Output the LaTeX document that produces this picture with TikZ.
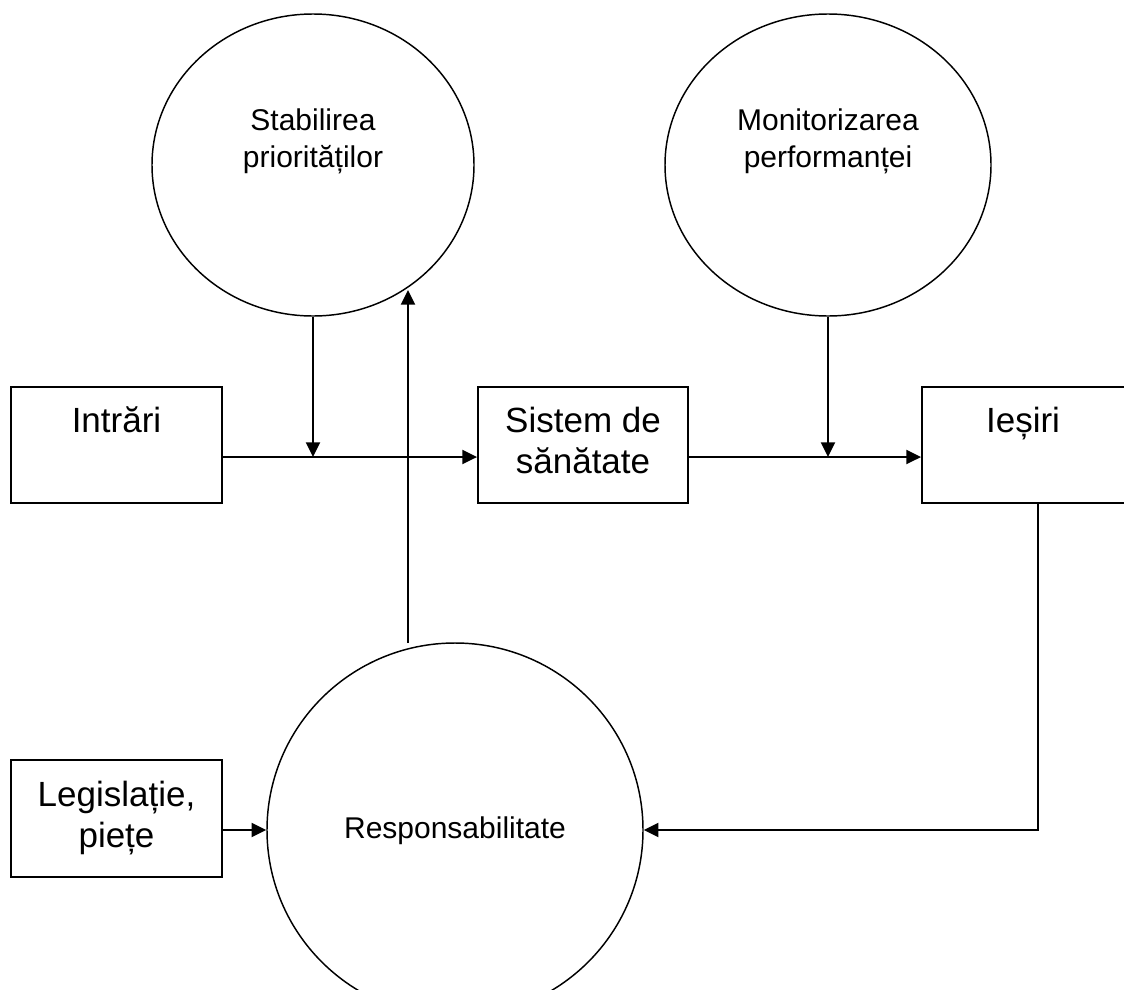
\documentclass[tikz,border=0pt]{standalone}
\usepackage{fontspec}
\setmainfont{Liberation Sans}
\usetikzlibrary{shapes.geometric,arrows.meta}
\begin{document}
\begin{tikzpicture}[x=0.75pt,y=-0.75pt,
  box/.style={draw,line width=1.4pt,inner sep=0pt},
  bubble/.style={ellipse,draw,line width=1.1pt,inner sep=0pt},
  boxtext/.style={font=\fontsize{26.25pt}{30.75pt}\selectfont,align=center,anchor=base,inner sep=0pt},
  bubbletext/.style={font=\fontsize{22.5pt}{27.75pt}\selectfont,align=center,anchor=base,inner sep=0pt},
  flow/.style={line width=1.5pt,-{Triangle[length=11pt,width=10.5pt]}},
  link/.style={line width=1.5pt}]
\useasboundingbox (0,0) rectangle (1124,989);

% process bubbles
\node[bubble,minimum width=0.75pt*322,minimum height=0.75pt*302] (stab) at (313,165) {};
\node[bubble,minimum width=0.75pt*326,minimum height=0.75pt*302] (monit) at (828,165) {};
\node[bubble,minimum width=0.75pt*376,minimum height=0.75pt*374] (resp) at (455,830) {};

% rectangular blocks
\node[box,minimum width=0.75pt*211,minimum height=0.75pt*116] (intrari) at (116.5,445) {};
\node[box,minimum width=0.75pt*210,minimum height=0.75pt*116] (sistem) at (583,445) {};
\node[box,minimum width=0.75pt*204,minimum height=0.75pt*116] (iesiri) at (1024,445) {};
\node[box,minimum width=0.75pt*211,minimum height=0.75pt*117] (legis) at (116.5,818.5) {};

% labels (multi-line labels are placed by the baseline of their last line)
\node[bubbletext] (stabtxt) at (313,167) {Stabilirea\\priorităților};
\node[bubbletext] (monittxt) at (828,167) {Monitorizarea\\performanței};
\node[bubbletext] (resptxt) at (455,838) {Responsabilitate};
\node[boxtext] (intraritxt) at (116.5,432) {Intrări};
\node[boxtext] (sistemtxt) at (583,473) {Sistem de\\sănătate};
\node[boxtext] (iesiritxt) at (1023,432) {Ieșiri};
\node[boxtext] (legistxt) at (116.5,847) {Legislație,\\piețe};

% connector levels
\coordinate (flowline) at (0,457);
\coordinate (backline) at (0,830);
\coordinate (outx) at (1038,0);
\coordinate (upstart) at (408,643);
\coordinate (uptip) at (408,290);

% connectors
\draw[flow] (intrari.east |- flowline) -- (sistem.west |- flowline);
\draw[flow] (sistem.east |- flowline) -- (iesiri.west |- flowline);
\draw[flow] (stab.south) -- (stab.south |- flowline);
\draw[flow] (monit.south) -- (monit.south |- flowline);
\draw[flow] (upstart) -- (uptip);
\draw[flow] (iesiri.south -| outx) -- (outx |- backline) -- (resp.east);
\draw[flow] (legis.east |- backline) -- (resp.west);
\end{tikzpicture}
\end{document}
